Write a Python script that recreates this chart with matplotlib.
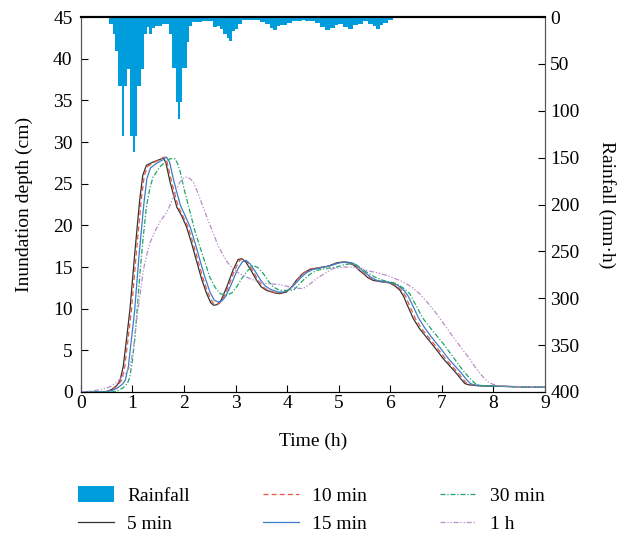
import matplotlib.pyplot as plt

plt.rcParams['font.family'] = ['Liberation Serif', 'DejaVu Serif']
plt.rcParams['font.size'] = 14

# rainfall (mm/h), step edges in hours
rain_edges = [0.549, 0.614, 0.659, 0.724, 0.789, 0.834, 0.886, 0.950, 1.002, 1.053,
              1.092, 1.157, 1.222, 1.286, 1.325, 1.371, 1.435, 1.500, 1.565, 1.707,
              1.771, 1.837, 1.875, 1.920, 1.965, 2.050, 2.095, 2.147, 2.350, 2.566,
              2.632, 2.696, 2.760, 2.826, 2.870, 2.923, 2.987, 3.051, 3.128, 3.472,
              3.569, 3.665, 3.730, 3.796, 3.860, 3.990, 4.086, 4.280, 4.344, 4.538,
              4.635, 4.732, 4.829, 4.926, 4.990, 5.087, 5.184, 5.281, 5.378, 5.475,
              5.572, 5.669, 5.735, 5.799, 5.863, 5.960, 6.057, 6.123, 6.866, 7.021,
              8.321, 8.709]
rain_vals = [7, 18, 36, 73, 127, 73, 55, 127, 144, 127,
             73, 55, 18, 11, 18, 12, 10, 9, 7.5, 18,
             54, 91, 109, 91, 54, 27, 9, 5, 4, 11,
             9, 13, 18, 22, 25, 15, 13, 7.5, 3.5, 5.7,
             7, 11.7, 13.9, 9.9, 8.8, 6.3, 4.1, 2.8, 4.1, 6.3,
             10.5, 14, 11.7, 8.8, 7, 10.5, 12.4, 8.8, 7, 4.1,
             7, 9.9, 12.4, 8.8, 6.3, 3.4, 1.4, 0, 1.5, 0,
             1.5]

t5 = [0, 0.5, 0.6, 0.7, 0.76, 0.82, 0.89, 0.95, 1.05, 1.14, 1.2, 1.27, 1.4, 1.53, 1.6, 1.65,
      1.73, 1.86, 1.95, 2.05, 2.15, 2.24, 2.34, 2.44, 2.52, 2.58, 2.65, 2.72, 2.83, 2.95, 3.05,
      3.12, 3.2, 3.3, 3.41, 3.5, 3.6, 3.75, 3.86, 3.99, 4.1, 4.18, 4.3, 4.44, 4.6, 4.8, 4.96,
      5.09, 5.2, 5.3, 5.4, 5.48, 5.57, 5.67, 5.85, 5.99, 6.1, 6.19, 6.26, 6.32, 6.45, 6.57,
      6.7, 6.87, 7.03, 7.16, 7.29, 7.38, 7.45, 7.54, 7.7, 8.0, 8.5, 9.0]
d5 = [0, 0.05, 0.3, 0.8, 1.4, 3.0, 6.6, 9.8, 17, 23, 26, 27.2, 27.6, 27.9, 28.1, 27.5,
      25.2, 22.2, 21.2, 19.8, 17.8, 15.8, 13.6, 11.8, 10.7, 10.4, 10.5, 11.0, 12.6, 14.6, 15.9,
      16.0, 15.6, 14.6, 13.4, 12.6, 12.2, 11.9, 11.8, 12.0, 12.7, 13.4, 14.2, 14.7, 14.9, 15.1, 15.5,
      15.6, 15.5, 15.2, 14.6, 14.2, 13.7, 13.4, 13.2, 13.1, 12.7, 12.2, 11.5, 10.6, 8.8, 7.6,
      6.6, 5.3, 4.0, 3.1, 2.2, 1.5, 1.0, 0.84, 0.75, 0.7, 0.62, 0.56]

t10 = [0, 0.5, 0.6, 0.7, 0.79, 0.85, 0.92, 0.98, 1.08, 1.17, 1.23, 1.3, 1.43, 1.56, 1.62, 1.67,
       1.76, 1.89, 1.98, 2.08, 2.18, 2.27, 2.37, 2.47, 2.55, 2.61, 2.68, 2.75, 2.86, 2.98, 3.08,
       3.15, 3.23, 3.33, 3.44, 3.53, 3.63, 3.78, 3.89, 4.0, 4.12, 4.2, 4.32, 4.46, 4.62, 4.82, 4.98,
       5.11, 5.22, 5.32, 5.42, 5.5, 5.6, 5.7, 5.88, 6.02, 6.13, 6.22, 6.3, 6.36, 6.49, 6.61,
       6.74, 6.91, 7.07, 7.2, 7.33, 7.42, 7.49, 7.58, 7.72, 8.0, 8.5, 9.0]
d10 = [0, 0.05, 0.25, 0.7, 1.4, 3.0, 6.6, 9.8, 17, 23, 26, 27.1, 27.6, 28.0, 28.2, 27.6,
       25.2, 22.2, 21.1, 19.8, 17.8, 15.8, 13.6, 11.8, 10.8, 10.5, 10.6, 11.1, 12.6, 14.6, 15.8,
       16.0, 15.6, 14.6, 13.4, 12.6, 12.2, 11.9, 11.9, 12.1, 12.8, 13.5, 14.3, 14.8, 14.9, 15.1, 15.5,
       15.6, 15.5, 15.2, 14.6, 14.2, 13.7, 13.4, 13.2, 13.1, 12.7, 12.2, 11.5, 10.6, 8.8, 7.6,
       6.6, 5.3, 4.0, 3.1, 2.2, 1.5, 1.0, 0.84, 0.75, 0.7, 0.62, 0.56]

t15 = [0, 0.5, 0.6, 0.7, 0.8, 0.86, 0.92, 0.98, 1.04, 1.13, 1.22, 1.28, 1.35, 1.48, 1.6, 1.66,
       1.72, 1.8, 1.93, 2.02, 2.12, 2.22, 2.31, 2.41, 2.51, 2.59, 2.66, 2.73, 2.8, 2.91, 3.03,
       3.13, 3.2, 3.28, 3.38, 3.49, 3.58, 3.68, 3.83, 3.94, 4.05, 4.16, 4.25, 4.37, 4.5, 4.66,
       4.86, 5.02, 5.15, 5.26, 5.36, 5.46, 5.54, 5.64, 5.74, 5.92, 6.06, 6.17, 6.27, 6.35, 6.42,
       6.55, 6.67, 6.8, 6.97, 7.13, 7.26, 7.39, 7.48, 7.56, 7.64, 7.78, 8.0, 8.5, 9.0]
d15 = [0, 0.03, 0.15, 0.45, 0.9, 1.4, 3.0, 6.3, 9.6, 16.5, 22.5, 25.6, 26.9, 27.5, 27.9, 28.2,
       27.6, 25.4, 22.4, 21.2, 19.8, 17.8, 15.8, 13.7, 11.9, 11.0, 10.8, 10.9, 11.4, 12.8, 14.6,
       15.6, 15.8, 15.4, 14.5, 13.4, 12.7, 12.3, 12.0, 12.0, 12.3, 13.0, 13.6, 14.3, 14.7, 14.9,
       15.2, 15.5, 15.6, 15.5, 15.2, 14.6, 14.2, 13.7, 13.4, 13.2, 13.1, 12.7, 12.2, 11.5, 10.6,
       8.9, 7.7, 6.6, 5.3, 4.0, 3.1, 2.2, 1.5, 1.0, 0.84, 0.75, 0.7, 0.62, 0.56]

t30 = [0, 0.6, 0.7, 0.82, 0.9, 0.95, 1.0, 1.05, 1.14, 1.2, 1.27, 1.34, 1.4, 1.53, 1.63, 1.73,
       1.82, 1.87, 1.92, 2.0, 2.11, 2.2, 2.31, 2.41, 2.5, 2.6, 2.7, 2.83, 2.93, 3.02, 3.12, 3.21,
       3.34, 3.44, 3.54, 3.64, 3.73, 3.86, 3.92, 4.12, 4.2, 4.31, 4.44, 4.57, 4.76, 4.96, 5.12,
       5.28, 5.4, 5.54, 5.7, 5.86, 6.0, 6.12, 6.25, 6.38, 6.5, 6.64, 6.83, 7.03, 7.22, 7.41,
       7.55, 7.67, 7.8, 8.0, 8.5, 9.0]
d30 = [0, 0.0, 0.1, 0.5, 1.0, 1.8, 3.8, 6.6, 13.8, 18.0, 22.2, 24.5, 25.8, 27.0, 27.6, 28.0,
       28.0, 27.5, 26.6, 24.4, 21.8, 19.6, 17.4, 15.5, 13.8, 12.6, 11.8, 11.6, 11.9, 12.6, 13.6, 14.4,
       15.2, 14.9, 14.2, 13.3, 12.6, 12.2, 12.2, 12.2, 12.7, 13.4, 14.1, 14.6, 14.8, 15.0, 15.3,
       15.4, 15.0, 14.4, 13.8, 13.4, 13.2, 13.0, 12.5, 11.8, 10.4, 8.8, 7.3, 5.8, 4.2, 2.6,
       1.6, 0.9, 0.75, 0.7, 0.62, 0.56]

t60 = [0, 0.2, 0.4, 0.56, 0.7, 0.85, 0.95, 1.02, 1.08, 1.15, 1.21, 1.28, 1.34, 1.44, 1.53, 1.66,
       1.72, 1.79, 1.86, 1.92, 2.0, 2.05, 2.12, 2.18, 2.27, 2.37, 2.47, 2.57, 2.66, 2.76, 2.85,
       2.95, 3.08, 3.21, 3.4, 3.6, 3.86, 4.12, 4.31, 4.45, 4.57, 4.75, 4.89, 5.1, 5.28, 5.54,
       5.75, 5.93, 6.1, 6.25, 6.42, 6.57, 6.73, 6.9, 7.06, 7.22, 7.38, 7.54, 7.67, 7.8, 7.9,
       8.0, 8.1, 8.5, 9.0]
d60 = [0, 0.1, 0.3, 0.6, 1.2, 2.1, 3.0, 5.2, 8.6, 11.8, 14.6, 16.5, 17.9, 19.3, 20.4, 21.5,
       22.3, 23.4, 24.4, 25.2, 25.7, 25.8, 25.6, 25.2, 23.9, 22.2, 20.6, 19.0, 17.6, 16.4, 15.5,
       14.8, 14.2, 13.8, 13.3, 13.0, 12.9, 12.5, 12.4, 13.0, 13.6, 14.3, 14.8, 15.0, 15.0, 14.6,
       14.3, 14.0, 13.6, 13.2, 12.6, 11.8, 10.7, 9.4, 8.0, 6.6, 5.3, 4.0, 2.8, 1.8, 1.2,
       0.9, 0.75, 0.65, 0.58]

fig = plt.figure(figsize=(6.32, 5.34), dpi=100)
ax = fig.add_axes([0.128, 0.266, 0.734, 0.702])
ax2 = ax.twinx()

rain = ax2.stairs(rain_vals, rain_edges, fill=True, color='#009ddc', baseline=0,
                  label='Rainfall')
ax2.set_ylim(400, 0)
ax2.set_yticks(range(0, 401, 50))
ax2.set_ylabel('Rainfall (mm·h)', rotation=270, labelpad=26)

l5, = ax.plot(t5, d5, color='#333333', lw=0.9, label='5 min')
l10, = ax.plot(t10, d10, color='#e8553f', lw=0.9, ls=(0, (4, 2.5)), label='10 min')
l15, = ax.plot(t15, d15, color='#3d7cc9', lw=0.9, label='15 min')
l30, = ax.plot(t30, d30, color='#1fa36b', lw=0.9, ls=(0, (4, 1.5, 1, 1.5)), label='30 min')
l60, = ax.plot(t60, d60, color='#b98ccb', lw=0.9, ls=(0, (4, 1.5, 1, 1.5, 1, 1.5)), label='1 h')

ax.set_zorder(ax2.get_zorder() + 1)
ax.patch.set_visible(False)

ax.set_xlim(0, 9)
ax.set_ylim(0, 45)
ax.set_xticks(range(0, 10))
ax.set_yticks(range(0, 46, 5))
ax.set_xlabel('Time (h)', labelpad=15)
ax.set_ylabel('Inundation depth (cm)', labelpad=14)

for a in (ax, ax2):
    a.tick_params(direction='in', length=5, width=0.8, labelsize=14)
    for s in a.spines.values():
        s.set_color('#555555')
        s.set_linewidth(0.8)
    a.spines['top'].set_color('black')
    a.spines['top'].set_linewidth(1.5)
    a.spines['bottom'].set_color('black')
ax.tick_params(axis='x', pad=2)
ax.tick_params(axis='y', pad=6)
ax2.tick_params(axis='y', pad=4)

fig.legend(handles=[rain, l5, l10, l15, l30, l60], ncol=3, frameon=False,
           loc='upper left', bbox_to_anchor=(0.123, 0.089), borderpad=0, borderaxespad=0,
           fontsize=14, handlelength=1.85, handleheight=0.85, columnspacing=3.75,
           labelspacing=0.5, handletextpad=0.7)

fig.savefig('out.png', dpi=100)
